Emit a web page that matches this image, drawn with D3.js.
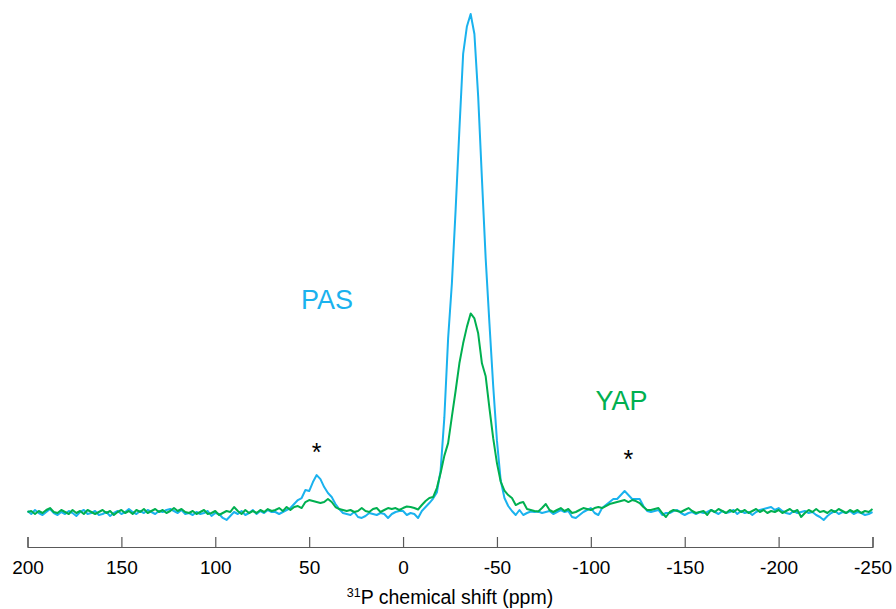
<!DOCTYPE html>
<html><head><meta charset="utf-8">
<script src="https://cdn.jsdelivr.net/npm/d3@7"></script>
<style>html,body{margin:0;padding:0;background:#fff}svg{display:block}</style>
</head><body>
<script>
// chemical shift grid (ppm)
const ppm = [
 200,198,196,194,192,190,188,186,184,182,
 180,178,176,174,172,170,168,166,164,162,
 160,158,156,154,152,150,148,146,144,142,
 140,138,136,134,132,130,128,126,124,122,
 120,118,116,114,112,110,108,106,104,102,
 100,98,96,94,92,90,88,86,84,82,
 80,78,76,74,72,70,68,66,64,62,
 60,58,56,54,52,50,48,46,44,42,
 40,38,36,34,32,30,28,26,24,22,
 20,18,16,14,12,10,8,6,4,2,
 0,-2,-4,-6,-8,-10,-12,-14,-16,-18,
 -20,-22,-24,-26,-28,-30,-32,-34,-36,-38,
 -40,-42,-44,-46,-48,-50,-52,-54,-56,-58,
 -60,-62,-64,-66,-68,-70,-72,-74,-76,-78,
 -80,-82,-84,-86,-88,-90,-92,-94,-96,-98,
 -100,-102,-104,-106,-108,-110,-112,-114,-116,-118,
 -120,-122,-124,-126,-128,-130,-132,-134,-136,-138,
 -140,-142,-144,-146,-148,-150,-152,-154,-156,-158,
 -160,-162,-164,-166,-168,-170,-172,-174,-176,-178,
 -180,-182,-184,-186,-188,-190,-192,-194,-196,-198,
 -200,-202,-204,-206,-208,-210,-212,-214,-216,-218,
 -220,-222,-224,-226,-228,-230,-232,-234,-236,-238,
 -240,-242,-244,-246,-248,-250
];
// PAS spectrum intensity (relative)
const pas = [
 0.4,-0.2,0.6,0.0,-0.4,0.2,0.8,0.0,-0.4,0.2,
 -0.2,0.4,0.0,-0.6,0.2,0.6,-0.2,0.0,0.4,-0.4,
 -0.2,0.2,-0.6,0.0,0.4,-0.2,0.2,0.8,0.2,-0.2,
 0.4,0.0,0.6,0.2,-0.2,0.4,0.2,0.6,0.8,0.4,
 0.0,0.6,-0.2,0.0,-0.4,0.2,-0.2,0.0,0.4,-0.6,
 0.0,-0.2,-1.0,-1.4,-0.6,0.2,-0.2,0.4,-0.4,0.0,
 0.6,-0.2,0.4,0.0,0.6,0.2,0.2,-0.2,0.2,0.6,
 1.0,1.8,2.6,3.0,4.6,4.4,6.2,7.6,6.8,5.2,
 4.0,3.2,1.8,0.8,0.0,-0.2,-0.4,0.2,-0.8,-1.0,
 -0.6,0.0,-0.2,-0.4,0.0,-0.2,-1.0,-0.2,0.2,0.4,
 0.4,-0.4,0.0,-0.2,-1.0,0.4,1.2,2.0,2.9,4.1,
 8.5,19.2,35,46,60.8,76.8,92,97.5,100,96,
 83.5,67,51,38,25.5,14.5,6.5,3.0,1.4,0.4,
 -0.4,0.6,-0.4,0.0,0.3,0.2,0.3,0.0,0.2,0.4,
 -0.2,0.2,0.6,0.2,0.4,-0.8,-1.0,-0.4,0.2,0.6,
 1.0,0.0,-0.4,1.0,1.6,2.2,2.8,2.8,3.6,4.4,
 3.6,2.8,2.8,2.8,1.4,0.4,0.2,0.4,0.6,-0.4,
 0.0,0.0,0.4,0.6,0.0,-0.4,0.0,0.2,-0.2,0.2,
 0.0,0.2,0.6,0.2,-0.2,0.4,0.0,0.2,0.6,-0.2,
 0.4,0.0,0.2,-0.4,0.2,0.6,0.8,1.0,1.2,0.6,
 1.0,0.4,0.0,-0.2,0.4,0.0,0.2,0.4,0.0,0.2,
 -0.4,-0.8,-1.4,-0.6,0.0,0.4,-0.2,0.2,0.0,0.4,
 -0.2,0.2,0.0,-0.4,-0.2,0.2
];
// YAP spectrum intensity (relative)
const yap = [
 0.2,0.4,-0.2,0.4,0.0,0.6,1.0,0.2,0.0,0.6,
 0.2,-0.2,0.6,0.0,0.4,-0.2,0.6,0.2,-0.2,0.2,
 0.6,0.0,0.4,-0.4,0.2,0.6,0.0,0.4,-0.2,0.6,
 0.2,0.8,0.0,0.4,0.8,0.2,0.6,0.0,0.4,1.0,
 0.4,0.8,0.2,0.0,0.4,-0.2,0.2,0.6,-0.2,0.0,
 0.4,-0.4,0.0,0.4,0.2,1.2,0.4,-0.2,0.6,0.0,
 0.4,0.0,0.6,0.2,0.8,0.4,0.6,1.0,0.4,1.2,
 0.6,1.2,1.4,1.0,2.2,2.6,2.4,2.2,2.0,2.2,
 2.8,2.2,1.2,0.8,0.6,0.4,0.6,0.2,0.4,1.0,
 0.4,0.2,0.8,1.0,0.2,0.6,1.0,0.8,1.0,0.6,
 1.0,1.3,1.2,1.0,0.7,1.6,2.4,3.0,3.2,5.0,
 8.0,11.5,14,19.3,24.5,30,34,37.3,40,39,
 36,30,27.4,21,15,10,6.3,4.5,3.6,3.0,
 1.6,2.0,2.2,0.8,0.6,0.4,0.3,1.0,1.8,0.6,
 0.2,0.6,1.0,0.4,0.8,0.0,0.2,0.6,1.0,0.8,
 0.6,1.0,1.2,1.0,1.4,1.8,2.0,2.2,2.4,2.6,
 2.2,2.6,2.4,2.0,1.2,0.6,0.6,0.8,1.0,0.0,
 -0.8,0.2,0.6,0.4,0.2,0.6,1.0,0.4,0.0,0.2,
 0.4,-0.4,0.6,0.2,0.8,0.4,0.0,0.6,0.2,0.8,
 0.2,0.6,0.0,0.4,0.8,0.2,0.6,0.0,0.4,0.2,
 0.6,0.0,0.4,0.8,0.2,0.6,-0.8,0.0,0.6,0.2,
 0.8,0.2,0.4,0.0,0.6,0.2,0.8,0.4,0.0,0.6,
 0.2,0.6,0.0,0.4,0.2,0.8
];
const xTicks = [200,150,100,50,0,-50,-100,-150,-200,-250];
const seriesNames = ["PAS","YAP"];
const sidebandPpm = [46,-120];

const W = 896, H = 609;
const colBlue = "#1AB2EE", colGreen = "#00B050";
const font = "Arial, 'Liberation Sans', sans-serif";
const svg = d3.select("body").append("svg").attr("width",W).attr("height",H);

const x = d3.scaleLinear().domain([200,-250]).range([27.5,872.5]);
const y = d3.scaleLinear().domain([0,100]).range([513,14]);

const n = Math.min(ppm.length, pas.length, yap.length);
const idx = d3.range(n);
const line = vals => d3.line().x(i=>x(ppm[i])).y(i=>y(vals[i]))(idx);

svg.append("path").attr("d", line(pas)).attr("fill","none")
  .attr("stroke",colBlue).attr("stroke-width",2).attr("stroke-linejoin","round");
svg.append("path").attr("d", line(yap)).attr("fill","none")
  .attr("stroke",colGreen).attr("stroke-width",2).attr("stroke-linejoin","round");

// axis
const axis = d3.axisBottom(x).tickValues(xTicks).tickSizeInner(-10).tickSizeOuter(-10)
  .tickPadding(27).tickFormat(d=>d);
const gA = svg.append("g").attr("transform","translate(0,547)").call(axis);
gA.select(".domain").attr("stroke","#595959").attr("stroke-width",1.2);
gA.selectAll(".tick line").attr("stroke","#595959").attr("stroke-width",1.2);
gA.selectAll(".tick text").attr("fill","#000").attr("font-family",font)
  .attr("font-size",19).attr("dy",0).attr("y",27);

// axis title
const t = svg.append("text").attr("x",450).attr("y",604).attr("text-anchor","middle")
  .attr("font-family",font).attr("font-size",19.5).attr("fill","#000");
t.append("tspan").attr("font-size",12.5).attr("dy",-7).text("31");
t.append("tspan").attr("dy",7).text("P chemical shift (ppm)");

// series labels
svg.append("text").attr("x",327).attr("y",308.5).attr("text-anchor","middle")
  .attr("font-family",font).attr("font-size",27)
  .attr("fill",colBlue).text(seriesNames[0]);
svg.append("text").attr("x",621.5).attr("y",410).attr("text-anchor","middle")
  .attr("font-family",font).attr("font-size",27)
  .attr("fill",colGreen).text(seriesNames[1]);

// spinning sideband markers
const starY = [461, 468];
sidebandPpm.forEach((p,i)=>{
  svg.append("text").attr("x",x(p)).attr("y",starY[i]).attr("text-anchor","middle")
    .attr("font-family",font).attr("font-size",25)
    .attr("fill","#000").text("*");
});
</script>
</body></html>
